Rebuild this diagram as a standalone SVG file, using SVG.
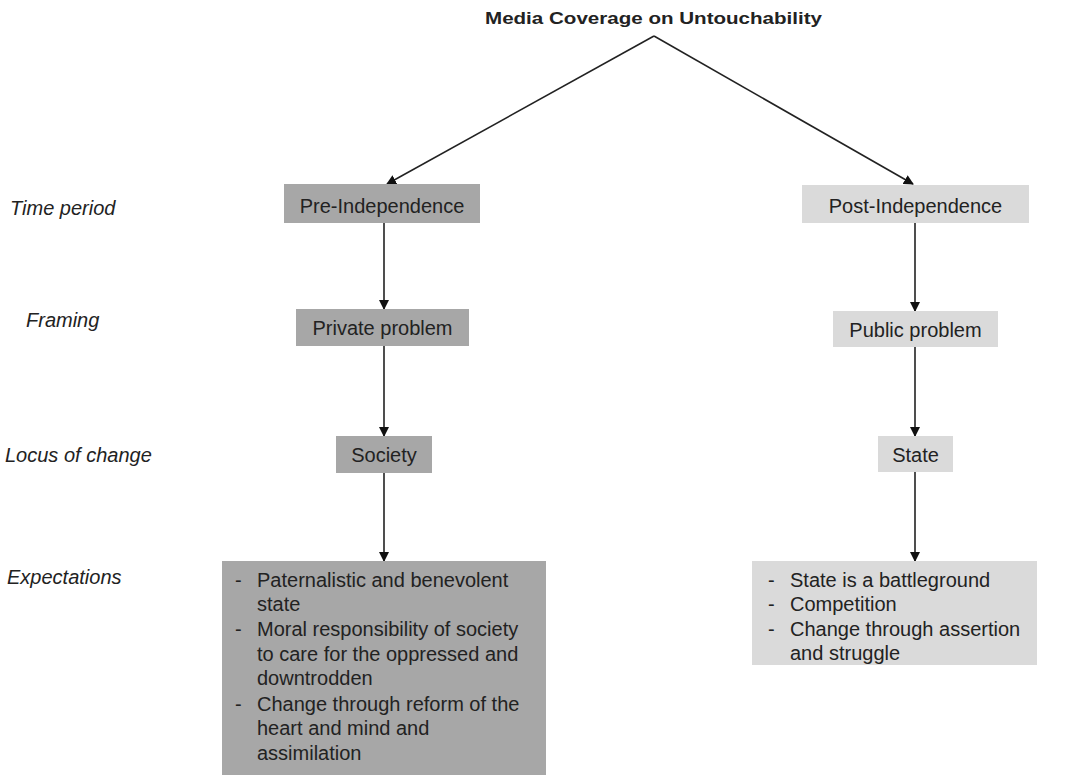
<svg xmlns="http://www.w3.org/2000/svg" width="1078" height="775" viewBox="0 0 1078 775">
<style>
.t{font-family:"Liberation Sans",Arial,sans-serif;font-size:20px;fill:#222}
.i{font-style:italic}
.c{text-anchor:middle}
.dark{fill:#a7a7a7}
.light{fill:#dadada}
.ln{stroke:#222;stroke-width:1.6;fill:none}
</style>
<defs>
<marker id="ah" markerWidth="10" markerHeight="10" refX="9" refY="5" orient="auto" markerUnits="userSpaceOnUse">
<path d="M0,0 L10,5 L0,10 Z" fill="#111"/>
</marker>
</defs>
<rect width="1078" height="775" fill="#fff"/>
<g id="title">
<text class="t c" x="653.5" y="24" style="font-weight:bold;font-size:17px" textLength="337" lengthAdjust="spacingAndGlyphs">Media Coverage on Untouchability</text>
</g>
<g id="labels">
<text class="t i" x="10" y="215">Time period</text>
<text class="t i" x="26" y="327">Framing</text>
<text class="t i" x="5" y="462">Locus of change</text>
<text class="t i" x="7" y="584">Expectations</text>
</g>
<g id="connectors">
<path class="ln" d="M654,36 L387,184" marker-end="url(#ah)"/>
<path class="ln" d="M654,36 L913,184" marker-end="url(#ah)"/>
<path class="ln" d="M384,223 L384,309" marker-end="url(#ah)"/>
<path class="ln" d="M384,346 L384,436" marker-end="url(#ah)"/>
<path class="ln" d="M384,473 L384,561" marker-end="url(#ah)"/>
<path class="ln" d="M915,223 L915,311" marker-end="url(#ah)"/>
<path class="ln" d="M915,347 L915,436" marker-end="url(#ah)"/>
<path class="ln" d="M915,472 L915,561" marker-end="url(#ah)"/>
</g>
<g id="pre-independence">
<rect class="dark" x="284" y="184" width="196" height="39"/>
<text class="t c" x="382" y="213">Pre-Independence</text>
</g>
<g id="post-independence">
<rect class="light" x="802" y="185" width="227" height="38"/>
<text class="t c" x="915.5" y="213">Post-Independence</text>
</g>
<g id="private-problem">
<rect class="dark" x="296" y="309" width="173" height="37"/>
<text class="t c" x="382.5" y="335">Private problem</text>
</g>
<g id="public-problem">
<rect class="light" x="833" y="311" width="165" height="36"/>
<text class="t c" x="915.5" y="337">Public problem</text>
</g>
<g id="society">
<rect class="dark" x="336" y="436" width="96" height="37"/>
<text class="t c" x="384" y="462">Society</text>
</g>
<g id="state">
<rect class="light" x="878" y="436" width="75" height="36"/>
<text class="t c" x="915.5" y="462">State</text>
</g>
<g id="expectations-pre">
<rect class="dark" x="222" y="561" width="324" height="214"/>
<text class="t" x="235" y="587">-</text><text class="t" x="257" y="587">Paternalistic and benevolent</text>
<text class="t" x="257" y="611">state</text>
<text class="t" x="235" y="636">-</text><text class="t" x="257" y="636">Moral responsibility of society</text>
<text class="t" x="257" y="661">to care for the oppressed and</text>
<text class="t" x="257" y="685">downtrodden</text>
<text class="t" x="235" y="711">-</text><text class="t" x="257" y="711">Change through reform of the</text>
<text class="t" x="257" y="735">heart and mind and</text>
<text class="t" x="257" y="760">assimilation</text>
</g>
<g id="expectations-post">
<rect class="light" x="752" y="561" width="285" height="104"/>
<text class="t" x="768" y="587">-</text><text class="t" x="790" y="587">State is a battleground</text>
<text class="t" x="768" y="611">-</text><text class="t" x="790" y="611">Competition</text>
<text class="t" x="768" y="636">-</text><text class="t" x="790" y="636">Change through assertion</text>
<text class="t" x="790" y="660">and struggle</text>
</g>
</svg>
